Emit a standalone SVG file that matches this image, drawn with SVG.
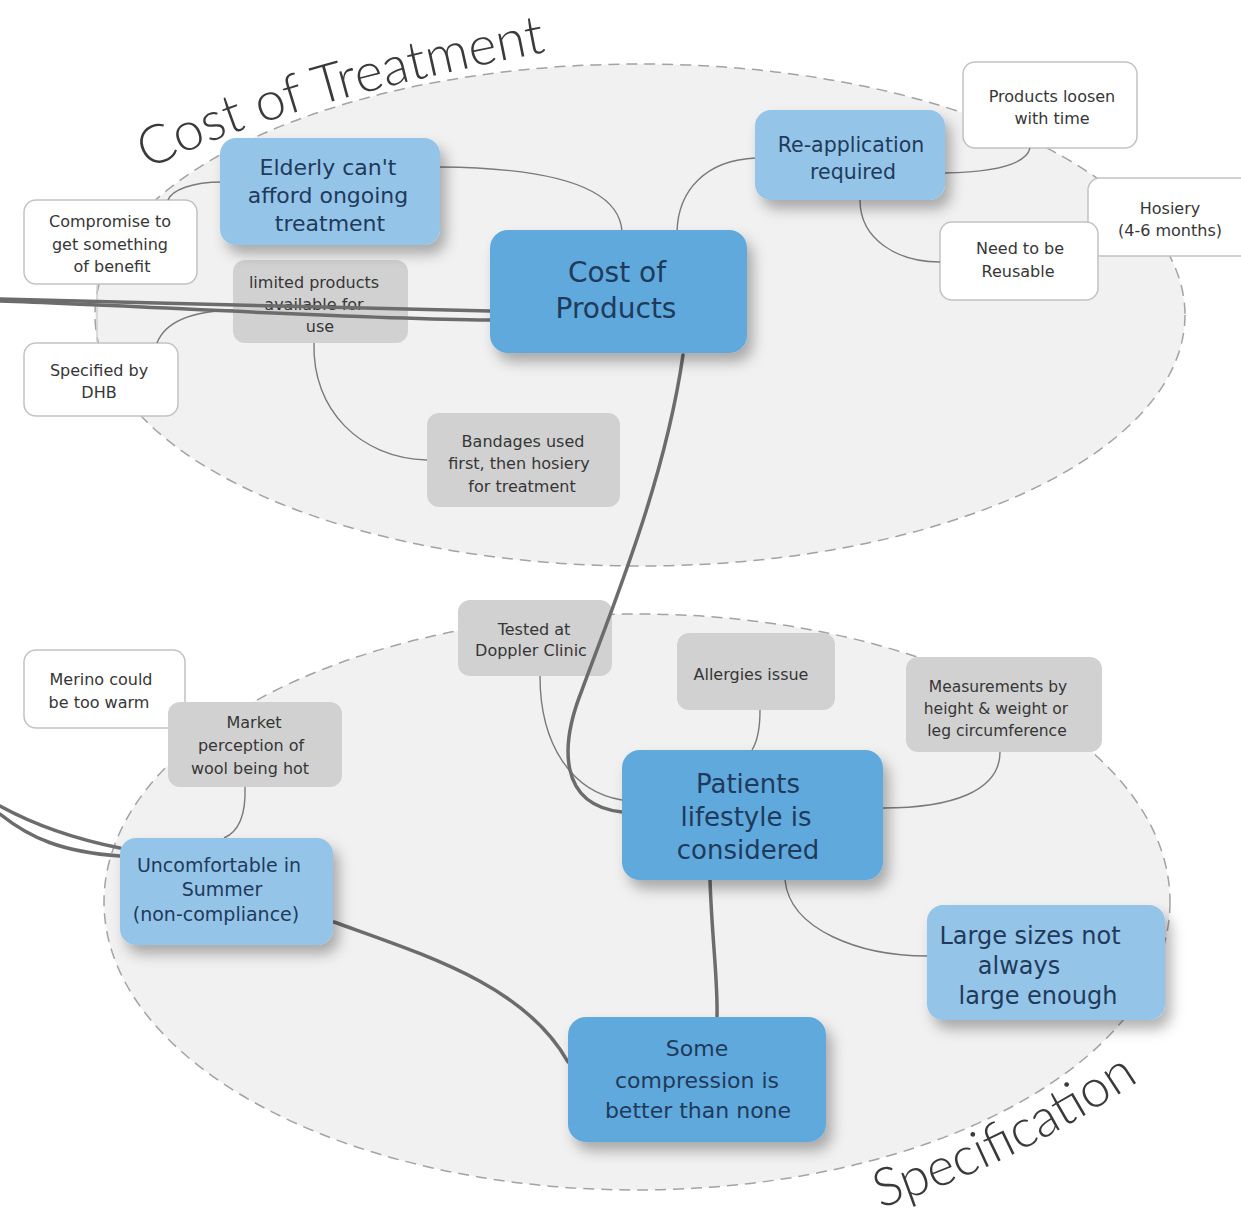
<svg xmlns="http://www.w3.org/2000/svg" width="1241" height="1212" viewBox="0 0 1241 1212">
  <defs>
    <filter id="shadow" x="-20%" y="-20%" width="150%" height="160%">
      <feDropShadow dx="6" dy="9" stdDeviation="7" flood-color="#000" flood-opacity="0.3"/>
    </filter>
    <path id="arcTop" d="M148,170 Q292,96 612,40"/>
    <path id="arcBottom" d="M880,1208 Q1028,1162 1178,1054"/>
    <style>
      .zone { fill: #f1f1f1; stroke: #a3a3a3; stroke-width: 1.5; stroke-dasharray: 11 7; }
      .title { font-family: Lato, "Open Sans", "DejaVu Sans", sans-serif; font-weight: 300; fill: #3a3a3a; }
      .mid rect { fill: #5ea9dd; filter: url(#shadow); }
      .light rect { fill: #94c5e9; filter: url(#shadow); }
      .grey rect { fill: #d1d1d1; }
      .white rect { fill: #ffffff; stroke: #c2c2c2; stroke-width: 1.5; }
      .mid text, .light text { font-family: "DejaVu Sans", sans-serif; fill: #1f3a5a; text-anchor: middle; }
      .grey text, .white text { font-family: "DejaVu Sans", sans-serif; font-size: 16px; fill: #363636; text-anchor: middle; }
      .thin { fill: none; stroke: #7a7a7a; stroke-width: 1.4; }
      .faint { fill: none; stroke: #cfcfcf; stroke-width: 1.4; }
      .thick { fill: none; stroke: #6c6c6c; stroke-width: 3.5; stroke-linecap: round; }
    </style>
  </defs>

  <rect width="1241" height="1212" fill="#ffffff"/>

  <!-- group boundaries -->
  <ellipse class="zone" cx="640" cy="315" rx="545" ry="251"/>
  <ellipse class="zone" cx="637" cy="902" rx="533" ry="288"/>

  <text class="title" style="font-size:54px"><textPath href="#arcTop">Cost of Treatment</textPath></text>
  <text class="title" style="font-size:53px"><textPath href="#arcBottom">Specification</textPath></text>

  <!-- secondary notes -->
  <g id="hosiery" class="white">
    <rect x="1088" y="178" width="170" height="78" rx="12"/>
    <text y="214"><tspan x="1170">Hosiery</tspan><tspan x="1170" dy="22">(4-6 months)</tspan></text>
  </g>
  <g id="need-reusable" class="white">
    <rect x="940" y="222" width="158" height="78" rx="12"/>
    <text y="254"><tspan x="1020">Need to be</tspan><tspan x="1018" dy="23">Reusable</tspan></text>
  </g>
  <g id="products-loosen" class="white">
    <rect x="963" y="62" width="174" height="86" rx="12"/>
    <text y="102"><tspan x="1052">Products loosen</tspan><tspan x="1052" dy="22">with time</tspan></text>
  </g>
  <g id="compromise" class="white">
    <rect x="24" y="200" width="173" height="84" rx="12"/>
    <text y="227"><tspan x="110">Compromise to</tspan><tspan x="110" dy="23">get something</tspan><tspan x="112" dy="22">of benefit</tspan></text>
  </g>
  <g id="specified-dhb" class="white">
    <rect x="24" y="343" width="154" height="73" rx="12"/>
    <text y="376"><tspan x="99">Specified by</tspan><tspan x="99" dy="22">DHB</tspan></text>
  </g>
  <g id="limited-products" class="grey">
    <rect x="233" y="260" width="175" height="83" rx="12"/>
    <text y="288"><tspan x="314">limited products</tspan><tspan x="314" dy="22">available for</tspan><tspan x="320" dy="22">use</tspan></text>
  </g>
  <g id="bandages" class="grey">
    <rect x="427" y="413" width="193" height="94" rx="12"/>
    <text y="447"><tspan x="523">Bandages used</tspan><tspan x="519" dy="22">first, then hosiery</tspan><tspan x="522" dy="23">for treatment</tspan></text>
  </g>
  <g id="doppler" class="grey">
    <rect x="458" y="600" width="154" height="76" rx="12"/>
    <text y="635"><tspan x="534">Tested at</tspan><tspan x="531" dy="21">Doppler Clinic</tspan></text>
  </g>
  <g id="allergies" class="grey">
    <rect x="677" y="633" width="158" height="77" rx="12"/>
    <text x="751" y="680">Allergies issue</text>
  </g>
  <g id="measurements" class="grey">
    <rect x="906" y="657" width="196" height="95" rx="12"/>
    <text y="692" style="font-size:15.5px"><tspan x="998">Measurements by</tspan><tspan x="996" dy="22">height &amp; weight or</tspan><tspan x="997" dy="22">leg circumference</tspan></text>
  </g>
  <g id="merino" class="white">
    <rect x="24" y="650" width="161" height="78" rx="12"/>
    <text y="685"><tspan x="101">Merino could</tspan><tspan x="99" dy="23">be too warm</tspan></text>
  </g>
  <g id="market-perception" class="grey">
    <rect x="168" y="702" width="174" height="85" rx="12"/>
    <text y="728"><tspan x="254">Market</tspan><tspan x="251" dy="23">perception of</tspan><tspan x="250" dy="23">wool being hot</tspan></text>
  </g>

  <!-- links between topics -->
  <g id="connectors">
    <path class="thin" d="M440,167 C560,168 620,190 622,232"/>
    <path class="thin" d="M222,182 C192,182 172,190 168,200"/>
    <path class="thin" d="M756,158 C706,160 678,190 677,232"/>
    <path class="thin" d="M945,173 C992,172 1026,165 1030,148"/>
    <path class="thin" d="M860,200 C860,240 898,262 940,262"/>
    <path class="thin" d="M314,343 C312,410 360,458 427,460"/>
    <path class="thin" d="M157,343 C166,320 196,311 233,310"/>
    <path class="faint" d="M97,284 L97,343"/>
    <path class="thin" d="M540,676 C540,745 572,792 622,800"/>
    <path class="thin" d="M760,710 C760,730 757,742 752,750"/>
    <path class="thin" d="M1000,752 C1000,792 950,808 883,808"/>
    <path class="thin" d="M245,787 C246,815 238,832 224,838"/>
    <path class="thin" d="M785,880 C790,930 860,956 927,956"/>
    <path class="thick" d="M0,299 C150,302 330,308 490,311"/>
    <path class="thick" d="M0,301 C150,306 330,318 490,320"/>
    <path class="thick" d="M683,355 C665,480 615,600 582,690 C560,745 558,805 622,812"/>
    <path class="thick" d="M0,806 C40,828 80,840 120,848"/>
    <path class="thick" d="M0,814 C30,838 62,852 120,856"/>
    <path class="thick" d="M334,922 C425,955 525,985 568,1062"/>
    <path class="thick" d="M710,880 C712,940 718,980 717,1017"/>
  </g>

  <!-- main topics -->
  <g id="elderly" class="light">
    <rect x="220" y="138" width="220" height="107" rx="16"/>
    <text y="175" style="font-size:22px"><tspan x="328">Elderly can't</tspan><tspan x="328" dy="28">afford ongoing</tspan><tspan x="330" dy="28">treatment</tspan></text>
  </g>
  <g id="cost-of-products" class="mid">
    <rect x="490" y="230" width="257" height="123" rx="18"/>
    <text y="282" style="font-size:28px"><tspan x="617">Cost of</tspan><tspan x="616" dy="36">Products</tspan></text>
  </g>
  <g id="reapplication" class="light">
    <rect x="755" y="110" width="190" height="90" rx="16"/>
    <text y="152" style="font-size:20.5px"><tspan x="851">Re-application</tspan><tspan x="853" dy="27">required</tspan></text>
  </g>
  <g id="uncomfortable" class="light">
    <rect x="120" y="838" width="213" height="107" rx="16"/>
    <text y="872" style="font-size:19px"><tspan x="219">Uncomfortable in</tspan><tspan x="222" dy="24">Summer</tspan><tspan x="216" dy="25">(non-compliance)</tspan></text>
  </g>
  <g id="patients-lifestyle" class="mid">
    <rect x="622" y="750" width="261" height="130" rx="18"/>
    <text y="793" style="font-size:26px"><tspan x="748">Patients</tspan><tspan x="746" dy="33">lifestyle is</tspan><tspan x="748" dy="33">considered</tspan></text>
  </g>
  <g id="large-sizes" class="light">
    <rect x="927" y="905" width="238" height="115" rx="16"/>
    <text y="944" style="font-size:24px"><tspan x="1030">Large sizes not</tspan><tspan x="1019" dy="30">always</tspan><tspan x="1038" dy="30">large enough</tspan></text>
  </g>
  <g id="some-compression" class="mid">
    <rect x="568" y="1017" width="258" height="125" rx="18"/>
    <text y="1056" style="font-size:22px"><tspan x="697">Some</tspan><tspan x="697" dy="32">compression is</tspan><tspan x="698" dy="30">better than none</tspan></text>
  </g>
</svg>
